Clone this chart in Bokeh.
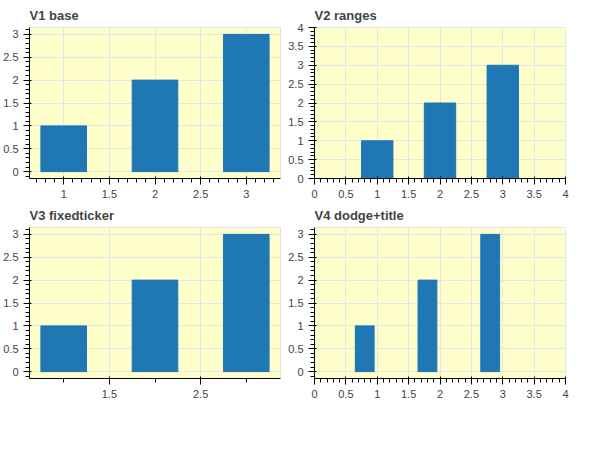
from bokeh.plotting import figure
from bokeh.layouts import gridplot
from bokeh.models import Range1d, FixedTicker, Title, ColumnDataSource
from bokeh.transform import dodge
from bokeh.embed import file_html
from bokeh.resources import INLINE

xs = [1, 2, 3]
tops = [1, 2, 3]

def base(**kw):
    p = figure(width=285, height=200, output_backend="svg", toolbar_location=None, **kw)
    p.background_fill_color = "#ffffcc"
    return p

p1 = base(title="V1 base")
p1.vbar(x=xs, top=tops, width=0.5)

p2 = base(title="V2 ranges", x_range=Range1d(0, 4), y_range=Range1d(0, 4))
p2.vbar(x=xs, top=tops, width=0.5)

p3 = base(title="V3 fixedticker")
p3.vbar(x=xs, top=tops, width=0.5)
p3.xaxis.ticker = FixedTicker(ticks=[0.5, 1.5, 2.5], minor_ticks=[0, 1, 2, 3])

p4 = base(title=None, x_range=Range1d(0, 4))
src = ColumnDataSource(dict(x=xs, t=tops))
p4.vbar(x=dodge("x", -0.2, range=p4.x_range), top="t", width=0.3, source=src)
p4.add_layout(Title(text="V4 dodge+title"), "above")

g = gridplot([[p1, p2], [p3, p4]], toolbar_location=None)
open("out.html", "w").write(file_html(g, INLINE))
